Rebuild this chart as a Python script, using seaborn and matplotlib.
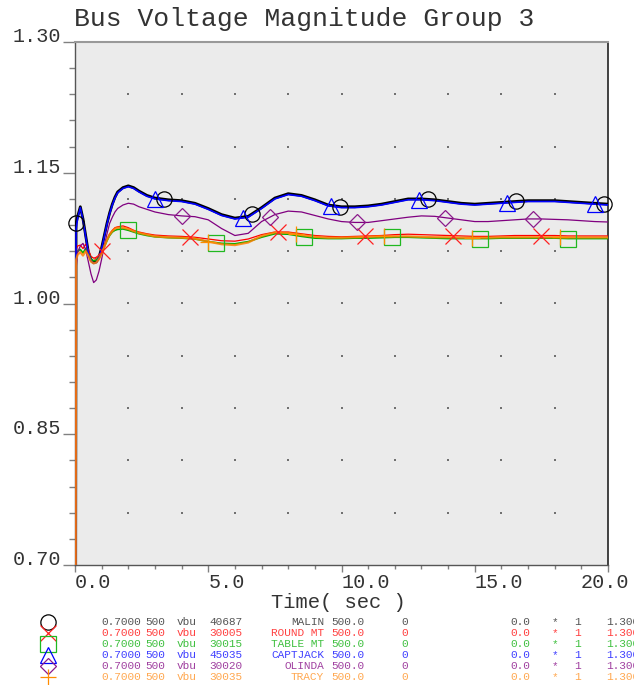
import numpy as np
import pandas as pd
import matplotlib
matplotlib.use("Agg")
import matplotlib.pyplot as plt
import matplotlib.transforms as mtransforms
import seaborn as sns

# ---------------------------------------------------------------- data
time_s = [0.0, 0.04, 0.1, 0.2, 0.3, 0.4, 0.5, 0.6, 0.7, 0.8, 0.9, 1.0, 1.1, 1.2,
          1.3, 1.4, 1.5, 1.6, 1.8, 2.0, 2.2, 2.4, 2.7, 3.0, 3.5, 4.0, 4.5, 5.0,
          5.5, 6.0, 6.5, 7.0, 7.5, 8.0, 8.5, 9.0, 9.5, 10.0, 10.5, 11.0, 11.5,
          12.0, 12.5, 13.0, 13.5, 14.0, 14.5, 15.0, 15.5, 16.0, 16.5, 17.0,
          17.5, 18.0, 18.5, 19.0, 19.5, 20.0]

malin = [0.0, 1.092, 1.100, 1.111, 1.097, 1.078, 1.059, 1.050, 1.047, 1.048,
         1.053, 1.064, 1.078, 1.092, 1.104, 1.114, 1.122, 1.128, 1.133, 1.135,
         1.133, 1.129, 1.124, 1.121, 1.119, 1.118, 1.115, 1.109, 1.102, 1.098,
         1.100, 1.110, 1.121, 1.126, 1.124, 1.119, 1.113, 1.111, 1.111, 1.112,
         1.114, 1.117, 1.120, 1.120, 1.119, 1.117, 1.115, 1.114, 1.115, 1.116,
         1.117, 1.118, 1.118, 1.118, 1.117, 1.116, 1.115, 1.114]

round_mt = [0.0, 1.062, 1.066, 1.067, 1.063, 1.068, 1.062, 1.054, 1.052, 1.053,
            1.055, 1.060, 1.067, 1.074, 1.080, 1.084, 1.087, 1.088, 1.089, 1.087,
            1.084, 1.082, 1.080, 1.0785, 1.0775, 1.077, 1.076, 1.074, 1.072,
            1.0715, 1.074, 1.079, 1.082, 1.082, 1.080, 1.078, 1.077, 1.0765,
            1.077, 1.0775, 1.078, 1.079, 1.0795, 1.079, 1.0785, 1.078, 1.0775,
            1.077, 1.077, 1.0775, 1.078, 1.078, 1.078, 1.078, 1.0775, 1.0775,
            1.0775, 1.0775]

table_mt = [0.0, 1.055, 1.060, 1.062, 1.058, 1.063, 1.058, 1.051, 1.049, 1.050,
            1.053, 1.058, 1.065, 1.072, 1.078, 1.082, 1.084, 1.085, 1.0855,
            1.084, 1.082, 1.080, 1.078, 1.0765, 1.0755, 1.075, 1.074, 1.071,
            1.069, 1.0685, 1.071, 1.076, 1.080, 1.0795, 1.077, 1.075, 1.0745,
            1.0745, 1.075, 1.075, 1.0755, 1.076, 1.076, 1.0755, 1.075, 1.0745,
            1.0745, 1.0745, 1.0745, 1.075, 1.075, 1.075, 1.075, 1.075, 1.0745,
            1.0745, 1.0745, 1.0745]

captjack = [0.0, 1.085, 1.098, 1.110, 1.096, 1.077, 1.058, 1.049, 1.046, 1.047,
            1.052, 1.063, 1.077, 1.091, 1.103, 1.113, 1.121, 1.127, 1.132, 1.134,
            1.132, 1.128, 1.123, 1.120, 1.118, 1.117, 1.114, 1.108, 1.101, 1.097,
            1.099, 1.109, 1.120, 1.125, 1.123, 1.118, 1.112, 1.110, 1.110, 1.111,
            1.113, 1.116, 1.119, 1.119, 1.118, 1.116, 1.114, 1.113, 1.114, 1.115,
            1.116, 1.117, 1.117, 1.117, 1.116, 1.115, 1.114, 1.113]

olinda = [0.0, 1.040, 1.059, 1.066, 1.069, 1.062, 1.048, 1.034, 1.024, 1.027,
          1.037, 1.051, 1.066, 1.080, 1.092, 1.099, 1.105, 1.109, 1.113, 1.115,
          1.114, 1.111, 1.108, 1.105, 1.102, 1.1005, 1.0996, 1.096, 1.086,
          1.078, 1.0805, 1.094, 1.102, 1.106, 1.105, 1.101, 1.097, 1.094, 1.093,
          1.093, 1.095, 1.097, 1.099, 1.1005, 1.100, 1.098, 1.096, 1.094, 1.094,
          1.095, 1.096, 1.097, 1.097, 1.0965, 1.096, 1.095, 1.094, 1.0935]

tracy = [0.0, 1.050, 1.056, 1.059, 1.055, 1.060, 1.055, 1.048, 1.046, 1.047,
         1.051, 1.057, 1.065, 1.073, 1.079, 1.083, 1.086, 1.087, 1.087, 1.0855,
         1.083, 1.081, 1.079, 1.077, 1.076, 1.0755, 1.0745, 1.071, 1.068, 1.067,
         1.070, 1.0775, 1.0815, 1.081, 1.0785, 1.0765, 1.0755, 1.0755, 1.076,
         1.0765, 1.077, 1.077, 1.077, 1.0765, 1.076, 1.076, 1.0755, 1.0755,
         1.0755, 1.076, 1.076, 1.076, 1.076, 1.076, 1.0758, 1.0758, 1.0758,
         1.0758]

bus_names = ["MALIN", "ROUND MT", "TABLE MT", "CAPTJACK", "OLINDA", "TRACY"]
bus_numbers = ["40687", "30005", "30015", "45035", "30020", "30035"]
channel_min = ["0.7000"] * 6
channel_max = ["1.300"] * 6
base_kv = ["500.0"] * 6

x_ticks = [0, 5, 10, 15, 20]
x_tick_labels = ["0.0", "5.0", "10.0", "15.0", "20.0"]
y_ticks = [0.70, 0.85, 1.00, 1.15, 1.30]
y_tick_labels = ["0.70", "0.85", "1.00", "1.15", "1.30"]

series = [malin, round_mt, table_mt, captjack, olinda, tracy]

# ---------------------------------------------------------------- styles
line_colors = ["#000000", "#ff0000", "#00b000", "#0000ff", "#800080", "#ff8000"]
line_widths = [2.0, 0.9, 1.2, 1.2, 0.9, 1.6]
line_alpha = [1.0, 1.0, 1.0, 1.0, 1.0, 0.85]
marker_shapes = ["o", "x", "s", "^", "D", "+"]
marker_sizes = [11.0, 11.5, 11.5, 11.5, 8.2, 11.5]
marker_colors = ["#000000", "#ff2020", "#20b820", "#0000ff", "#8b1a8b", "#ff8c00"]
marker_start = [0.04, 1.0, 2.0, 3.0, 4.0, 5.0]
marker_step = 3.3
text_colors = ["#555555", "#ff4040", "#40c040", "#4040ff", "#a040a0", "#ffa850"]

sns.set_theme(style="white")
plt.rcParams["font.family"] = ["Liberation Mono", "DejaVu Sans Mono"]

W, H = 634, 685
fig = plt.figure(figsize=(W / 100, H / 100), dpi=100)
fig.patch.set_facecolor("white")

left, right, top, bottom = 75, 608, 42, 565
ax = fig.add_axes([left / W, 1 - bottom / H, (right - left) / W, (bottom - top) / H])
ax.set_facecolor("#ebebeb")

frame = pd.DataFrame({"t": time_s})
for name, vals in zip(bus_names, series):
    frame[name] = vals
long = frame.melt(id_vars="t", var_name="bus", value_name="v")

# background dot grid at every second minor tick
gx, gy = np.meshgrid(np.arange(2, 19, 2), np.arange(0.76, 1.25, 0.06))
ax.scatter(gx.ravel(), gy.ravel(), s=2.5, marker="s", color="#707070",
           linewidths=0, zorder=1)

for i, name in enumerate(bus_names):
    sub = long[long["bus"] == name]
    sns.lineplot(data=sub, x="t", y="v", ax=ax, color=line_colors[i],
                 linewidth=line_widths[i], alpha=line_alpha[i], estimator=None,
                 sort=False, legend=False, zorder=3 + i)
    mt = np.arange(marker_start[i], 20.01, marker_step)
    mv = np.interp(mt, time_s, series[i])
    ax.plot(mt, mv, linestyle="none", marker=marker_shapes[i],
            markersize=marker_sizes[i], markerfacecolor="none",
            markeredgecolor=marker_colors[i], markeredgewidth=0.9,
            clip_on=False, zorder=10 + i)

ax.set_xlim(0, 20)
ax.set_ylim(0.70, 1.30)
ax.set_xticks(x_ticks)
ax.set_xticklabels(x_tick_labels)
ax.set_xticks(np.arange(0, 21, 1), minor=True)
ax.set_yticks(y_ticks)
ax.set_yticklabels(y_tick_labels)
ax.set_yticks(np.arange(0.70, 1.3001, 0.03), minor=True)

ax.tick_params(axis="both", which="both", direction="out", color="#808080",
               width=1.0, labelcolor="#333333", labelsize=14.5,
               bottom=True, left=True, top=False, right=False)
ax.tick_params(axis="x", which="major", length=5, pad=0.6)
ax.tick_params(axis="x", which="minor", length=3)
ax.tick_params(axis="y", which="major", length=8.5, pad=1.5)
ax.tick_params(axis="y", which="minor", length=4)

for lab in ax.get_yticklabels():
    lab.set_verticalalignment("baseline")
xlabs = ax.get_xticklabels()
for lab in xlabs:
    lab.set_horizontalalignment("left")
xlabs[-1].set_horizontalalignment("right")
xlabs[-1].set_transform(xlabs[-1].get_transform()
                        + mtransforms.ScaledTranslation(0.21, 0, fig.dpi_scale_trans))

ax.set_ylabel("")
ax.set_xlabel("Time( sec )", fontsize=14.8, color="#333333")
ax.xaxis.set_label_coords((338 - left) / (right - left), -(602 - bottom) / (bottom - top))
ax.xaxis.label.set_verticalalignment("center")

for side in ["left", "bottom"]:
    ax.spines[side].set_color("#555555")
    ax.spines[side].set_linewidth(1.0)
ax.spines["top"].set_color("#999999")
ax.spines["top"].set_linewidth(1.5)
ax.spines["right"].set_color("#333333")
ax.spines["right"].set_linewidth(1.3)

# title and channel table drawn in figure pixel space
ov = fig.add_axes([0, 0, 1, 1])
ov.set_xlim(0, W)
ov.set_ylim(H, 0)
ov.axis("off")
ov.patch.set_alpha(0)

ov.text(74, 26, "Bus Voltage Magnitude Group 3", fontsize=19, color="#333333",
        ha="left", va="baseline")

row_y = [622, 633, 644, 655, 666, 677]
for i in range(6):
    y = row_y[i]
    c = text_colors[i]
    ov.plot([47.5], [y], linestyle="none", marker=marker_shapes[i],
            markersize=marker_sizes[i], markerfacecolor="none",
            markeredgecolor=marker_colors[i], markeredgewidth=0.9)
    kw = dict(fontsize=8.0, color=c, va="center")
    ov.text(101, y, channel_min[i], ha="left", **kw)
    ov.text(145, y, "500", ha="left", **kw)
    ov.text(177, y, "vbu", ha="left", **kw)
    ov.text(209.5, y, bus_numbers[i], ha="left", **kw)
    ov.text(324, y, bus_names[i], ha="right", **kw)
    ov.text(331, y, base_kv[i], ha="left", **kw)
    ov.text(401.5, y, "0", ha="left", **kw)
    ov.text(510, y, "0.0", ha="left", **kw)
    ov.text(552, y, "*", ha="left", **kw)
    ov.text(574, y, "1", ha="left", **kw)
    ov.text(606.5, y, channel_max[i], ha="left", **kw)

fig.savefig("out.png", dpi=100)
